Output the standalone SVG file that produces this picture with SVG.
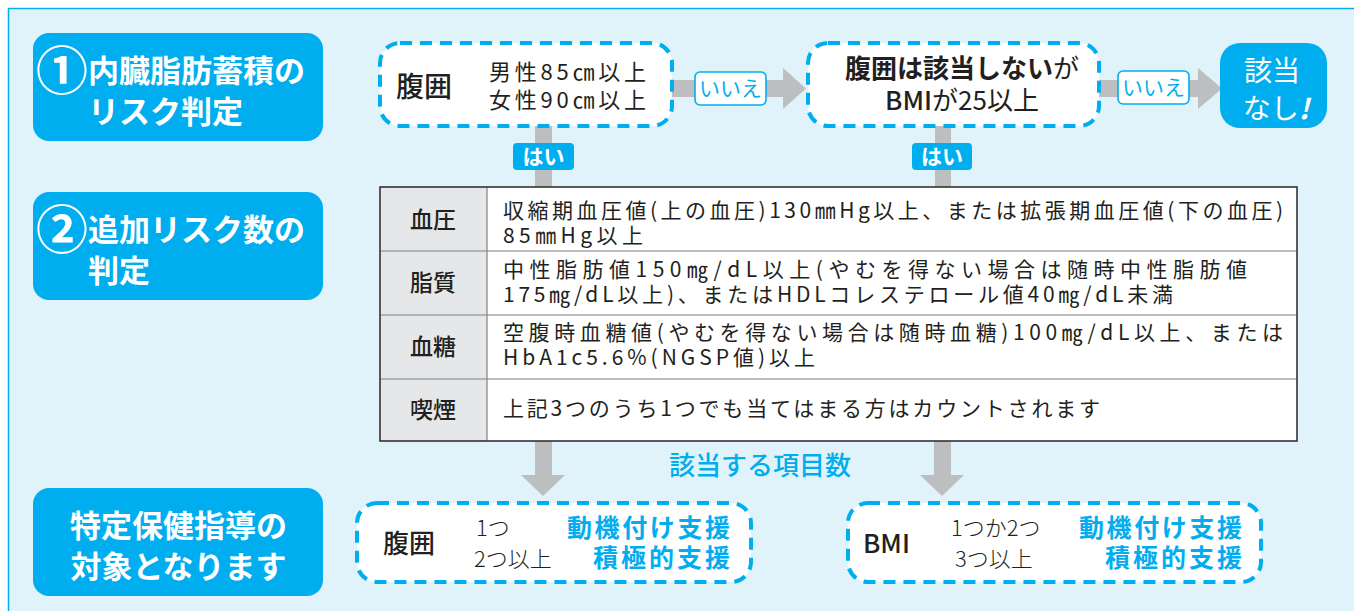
<svg xmlns="http://www.w3.org/2000/svg" width="1354" height="611" viewBox="0 0 1354 611">
<style>
.jp{font-family:"Noto Sans CJK JP","Noto Sans",sans-serif;}
.lbl{fill:#00aeef;}
.lbltxt{fill:#fff;font-weight:700;font-size:31px;}
.dash{fill:#fff;stroke:#00aeef;stroke-width:4;stroke-dasharray:12 8;}
.arrow{fill:#bcbec0;}
.dk{fill:#231f20;}
.cy{fill:#00aeef;}
.tag{fill:#fff;stroke:#00aeef;stroke-width:1.6;}
.cell{font-size:21px;fill:#231f20;}
.rowh{font-size:23px;fill:#231f20;font-weight:500;text-anchor:middle;}
</style>
<rect x="8.5" y="8.5" width="1360" height="620" fill="#e0f3fa" stroke="#00aeef" stroke-width="1.5"/>

<g id="connectors">
<rect class="arrow" x="672" y="80" width="112" height="17"/>
<polygon class="arrow" points="783,68 806,88.5 783,109"/>
<rect class="arrow" x="1099" y="80" width="100" height="17"/>
<polygon class="arrow" points="1198,68 1222,88.5 1198,109"/>
<rect class="arrow" x="535" y="126" width="17" height="62"/>
<rect class="arrow" x="935" y="126" width="16" height="62"/>
<rect class="arrow" x="535" y="440" width="17" height="36"/>
<polygon class="arrow" points="521,475 565,475 543,496"/>
<rect class="arrow" x="934" y="440" width="17" height="36"/>
<polygon class="arrow" points="920,475 964,475 942,496"/>
<g id="tag-no1"><rect class="tag" x="695" y="72" width="71" height="33" rx="5"/><text class="jp cy" x="730.5" y="96" font-size="21" text-anchor="middle">いいえ</text></g>
<g id="tag-no2"><rect class="tag" x="1118" y="71" width="71" height="33" rx="5"/><text class="jp cy" x="1153.5" y="95" font-size="21" text-anchor="middle">いいえ</text></g>
<g id="tag-yes1"><rect class="lbl" x="513" y="143" width="61" height="27" rx="4"/><text class="jp" x="543.5" y="164" font-size="21" font-weight="700" fill="#fff" text-anchor="middle">はい</text></g>
<g id="tag-yes2"><rect class="lbl" x="912" y="143" width="60" height="27" rx="4"/><text class="jp" x="942" y="164" font-size="21" font-weight="700" fill="#fff" text-anchor="middle">はい</text></g>
<text id="count-label" class="jp cy" x="760" y="475" font-size="26" font-weight="500" text-anchor="middle">該当する項目数</text>
</g>

<g id="step1">
<rect class="lbl" x="33" y="33" width="290" height="108" rx="16"/>
<text class="jp lbltxt" x="36" y="90"><tspan font-size="52">①</tspan><tspan x="88" y="82">内臓脂肪蓄積の</tspan></text>
<text class="jp lbltxt" x="88" y="123">リスク判定</text>
</g>

<g id="step2">
<rect class="lbl" x="33" y="192" width="290" height="108" rx="16"/>
<text class="jp lbltxt" x="36" y="249"><tspan font-size="52">②</tspan><tspan x="88" y="241">追加リスク数の</tspan></text>
<text class="jp lbltxt" x="88" y="282">判定</text>
</g>

<g id="step3">
<rect class="lbl" x="33" y="488" width="290" height="108" rx="16"/>
<text class="jp lbltxt" x="178.5" y="537" text-anchor="middle">特定保健指導の</text>
<text class="jp lbltxt" x="178.5" y="578" text-anchor="middle">対象となります</text>
</g>

<g id="waist">
<rect class="dash" x="380" y="43" width="292" height="83" rx="20"/>
<text class="jp dk" x="396" y="97" font-size="28" font-weight="500">腹囲</text>
<text class="jp dk" x="489" y="80" font-size="22" textLength="157" lengthAdjust="spacing">男性85㎝以上</text>
<text class="jp dk" x="489" y="108" font-size="22" textLength="157" lengthAdjust="spacing">女性90㎝以上</text>
</g>

<g id="bmi">
<rect class="dash" x="808" y="43" width="291" height="83" rx="20"/>
<text class="jp dk" x="962" y="78" font-size="26" text-anchor="middle"><tspan font-weight="700">腹囲は該当しない</tspan>が</text>
<text class="jp dk" x="962" y="110" font-size="26" text-anchor="middle"><tspan font-weight="500">BMI</tspan>が25以上</text>
</g>

<g id="none">
<rect class="lbl" x="1220" y="43" width="107" height="85" rx="20"/>
<text class="jp" x="1272" y="81" font-size="28" fill="#fff" text-anchor="middle">該当</text>
<text class="jp" x="1276" y="119" font-size="28" fill="#fff" text-anchor="middle">なし<tspan font-style="italic" font-weight="700">!</tspan></text>
</g>

<g id="risk-table">
<rect x="380" y="187" width="917" height="254" fill="#fff"/>
<rect x="380" y="187" width="107" height="254" fill="#e6e7e8"/>
<g stroke="#808080" stroke-width="1.2">
<line x1="380" y1="251" x2="1297" y2="251"/>
<line x1="380" y1="315" x2="1297" y2="315"/>
<line x1="380" y1="379" x2="1297" y2="379"/>
<line x1="487" y1="187" x2="487" y2="441"/>
</g>
<rect x="380" y="187" width="917" height="254" fill="none" stroke="#333" stroke-width="1.6"/>
<text class="jp rowh" x="433" y="228">血圧</text>
<text class="jp rowh" x="433" y="291">脂質</text>
<text class="jp rowh" x="433" y="355">血糖</text>
<text class="jp rowh" x="433" y="418">喫煙</text>
<text class="jp cell" x="503" y="218" textLength="780" lengthAdjust="spacing">収縮期血圧値(上の血圧)130㎜Hg以上、または拡張期血圧値(下の血圧)</text>
<text class="jp cell" x="503" y="243" textLength="140" lengthAdjust="spacing">85㎜Hg以上</text>
<text class="jp cell" x="503" y="277" textLength="744" lengthAdjust="spacing">中性脂肪値150㎎/dL以上(やむを得ない場合は随時中性脂肪値</text>
<text class="jp cell" x="503" y="302" textLength="670" lengthAdjust="spacing">175㎎/dL以上)、またはHDLコレステロール値40㎎/dL未満</text>
<text class="jp cell" x="503" y="340" textLength="780" lengthAdjust="spacing">空腹時血糖値(やむを得ない場合は随時血糖)100㎎/dL以上、または</text>
<text class="jp cell" x="503" y="365" textLength="312" lengthAdjust="spacing">HbA1c5.6%(NGSP値)以上</text>
<text class="jp cell" x="503" y="416" textLength="597" lengthAdjust="spacing">上記3つのうち1つでも当てはまる方はカウントされます</text>
</g>

<g id="result-waist">
<rect class="dash" x="357" y="503" width="394" height="79" rx="20"/>
<text class="jp dk" x="383" y="553" font-size="26" font-weight="500">腹囲</text>
<text class="jp dk" x="476" y="536" font-size="22" font-weight="300">1つ</text>
<text class="jp dk" x="474" y="567" font-size="22" font-weight="300">2つ以上</text>
<text class="jp cy" x="730" y="537" font-size="25" font-weight="700" text-anchor="end" textLength="163" lengthAdjust="spacing">動機付け支援</text>
<text class="jp cy" x="730" y="567" font-size="25" font-weight="700" text-anchor="end" textLength="137" lengthAdjust="spacing">積極的支援</text>
</g>

<g id="result-bmi">
<rect class="dash" x="848" y="503" width="413" height="79" rx="20"/>
<text class="jp dk" x="863" y="553" font-size="26" font-weight="500">BMI</text>
<text class="jp dk" x="951" y="536" font-size="22" font-weight="300">1つか2つ</text>
<text class="jp dk" x="955" y="567" font-size="22" font-weight="300">3つ以上</text>
<text class="jp cy" x="1242" y="537" font-size="25" font-weight="700" text-anchor="end" textLength="163" lengthAdjust="spacing">動機付け支援</text>
<text class="jp cy" x="1242" y="567" font-size="25" font-weight="700" text-anchor="end" textLength="137" lengthAdjust="spacing">積極的支援</text>
</g>
</svg>
